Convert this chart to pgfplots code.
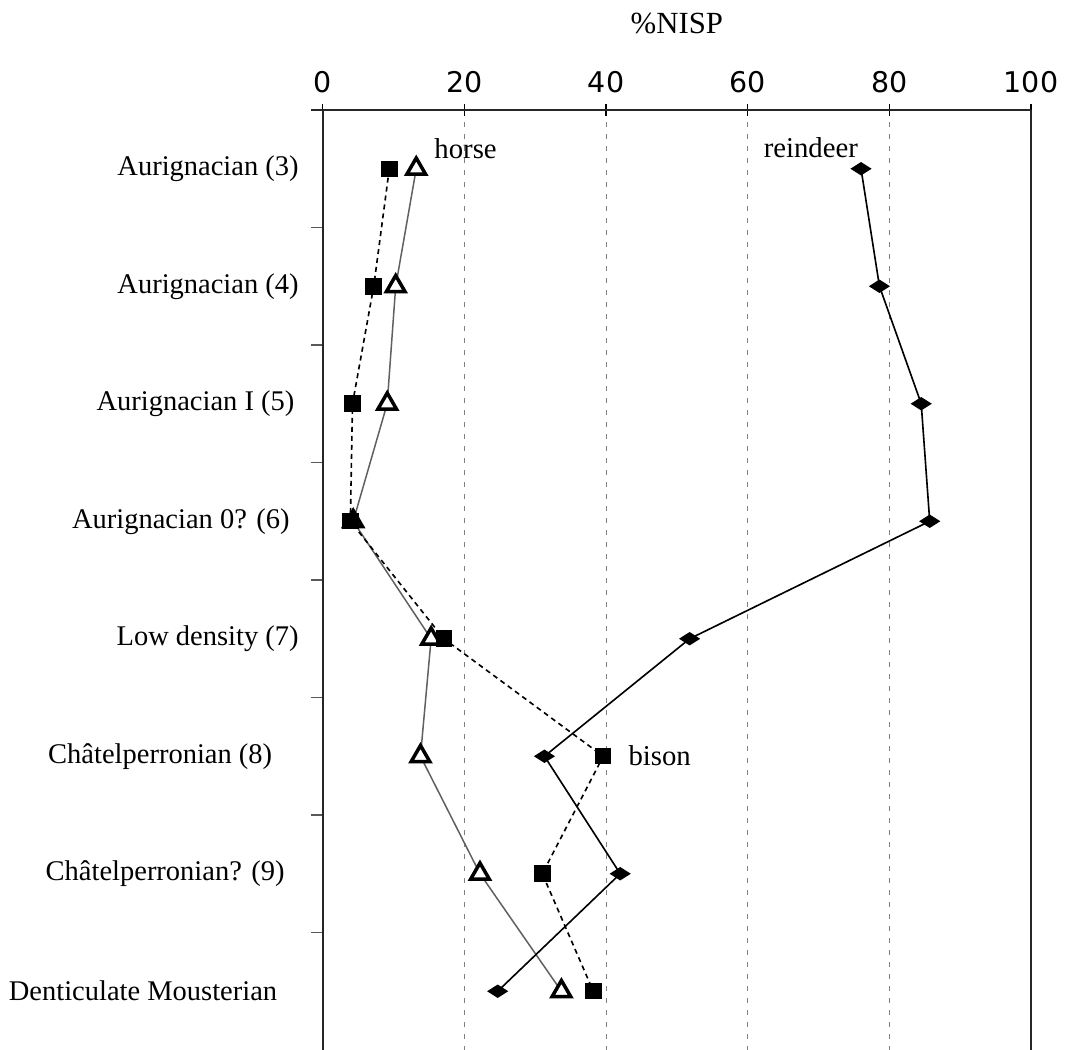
\documentclass[border=0pt]{standalone}
\usepackage{pgfplots}
\pgfplotsset{compat=1.18}
\usepackage{fontspec}
\setmainfont{Liberation Serif}
\newfontfamily\tickfont{DejaVu Sans}

% %NISP per layer (top = youngest)
\pgfplotstableread{
pos reindeer horse bison
0   76.0  13.2  9.4
1   78.6  10.3  7.2
2   84.5   9.1  4.2
3   85.7   4.3  3.9
4   51.8  15.3 17.1
5   31.3  13.8 39.6
6   42.0  22.2 31.0
7   24.7  33.7 38.2
}\nisp

\begin{document}
\begin{tikzpicture}
\begin{axis}[
  name=main,
  scale only axis,
  width=283.3pt, height=376pt,
  xmin=0, xmax=100, ymin=-0.5, ymax=7.5,
  y dir=reverse,
  axis x line=top, axis y line=box,
  axis line style={-, line width=0.8pt, black!85},
  x axis line style={shorten <=-4.8pt},
  xtick={0,20,40,60,80,100},
  xtick align=center,
  major tick length=4.5pt,
  major x tick style={black, line width=0.6pt},
  /pgf/number format/assume math mode=true,
  xticklabel style={font=\tickfont\fontsize{11.4}{13}\selectfont, yshift=1pt},
  xmajorgrids,
  major x grid style={gray, line width=0.4pt, dash pattern=on 2pt off 2.8pt},
  ytick={0,1,2,3,4,5,6,7},
  ytick pos=left,
  major y tick style={draw=none},
  minor ytick={0.5,1.5,2.5,3.5,4.5,5.5,6.5},
  minor tick length=4.8pt,
  ytick align=outside,
  minor y tick style={gray!70!black, line width=0.5pt},
  yticklabel style={font=\fontsize{11.4}{13}\selectfont, xshift=-1.6pt},
  yticklabels={
    Aurignacian (3),
    Aurignacian (4),
    Aurignacian I (5)\hspace*{1.7pt},
    Aurignacian 0? (6)\hspace*{3.6pt},
    Low density (7),
    Ch\^atelperronian (8)\hspace*{10.6pt},
    Ch\^atelperronian? (9)\hspace*{5.6pt},
    Denticulate Mousterian\hspace*{8.6pt}},
  xlabel={\%NISP},
  xlabel style={font=\fontsize{12.3}{14}\selectfont, yshift=8pt},
  clip=false,
]
% horse
\addplot[gray!75!black, line width=0.6pt, mark=triangle*,
  mark size=4.3pt,
  mark options={solid, fill=white, draw=black, line width=1.4pt}]
  table[x=horse, y=pos] {\nisp};
% bison
\addplot[black, line width=0.65pt, dash pattern=on 2pt off 1.6pt,
  mark=square*, mark size=3.1pt,
  mark options={solid, fill=black, draw=black, line width=0.4pt}]
  table[x=bison, y=pos] {\nisp};
% reindeer
\addplot[black, line width=0.65pt, mark=diamond*, mark size=2.3pt,
  mark options={solid, fill=black, xscale=2.1}]
  table[x=reindeer, y=pos] {\nisp};

\node[anchor=base west, inner sep=0pt, font=\fontsize{11.5}{13}\selectfont]
  at (axis cs:15.7,-0.09) {horse};
\node[anchor=base west, inner sep=0pt, font=\fontsize{11.5}{13}\selectfont]
  at (axis cs:62.2,-0.10) {reindeer};
\node[anchor=base west, inner sep=0pt, font=\fontsize{11.5}{13}\selectfont]
  at (axis cs:43.1,5.08) {bison};
\end{axis}
\pgfresetboundingbox
\path ([xshift=-129.1pt]main.south west) rectangle
      ([xshift=14.8pt,yshift=44pt]main.north east);
\end{tikzpicture}
\end{document}
